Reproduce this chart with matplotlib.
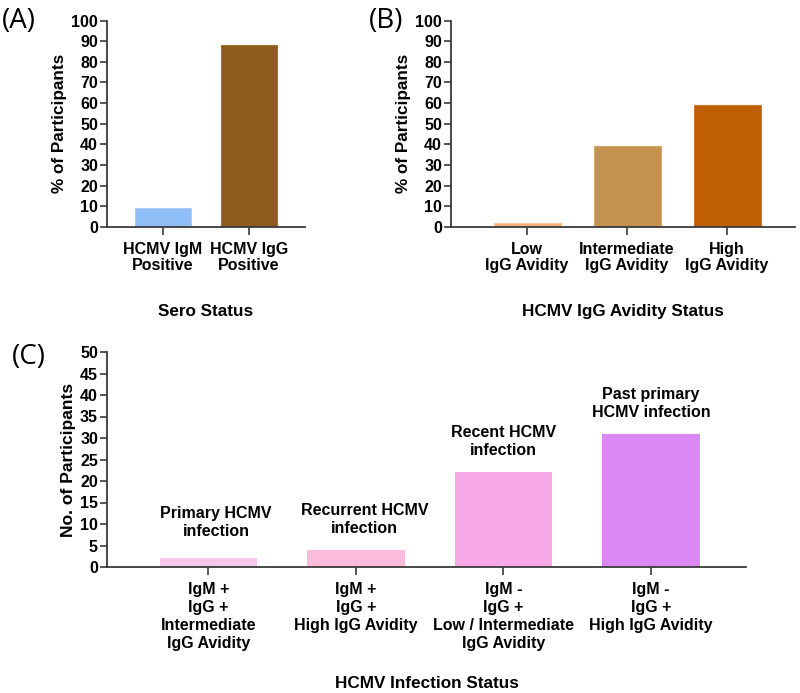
import matplotlib
matplotlib.use("Agg")
import matplotlib.pyplot as plt

plt.rcParams['font.family'] = ['Liberation Sans', 'DejaVu Sans']
plt.rcParams['font.weight'] = 'bold'

# Panel A
a_labels = ["HCMV IgM\nPositive", "HCMV IgG\nPositive"]
a_values = [9, 88]
a_colors = ["#8fbdf6", "#8e5b1e"]

# Panel B
b_labels = ["Low\nIgG Avidity", "Intermediate\nIgG Avidity", "High\nIgG Avidity"]
b_values = [2, 39, 59]
b_colors = ["#f5b27b", "#c4924f", "#c05f02"]

# Panel C
c_labels = ["IgM +\nIgG +\nIntermediate\nIgG Avidity",
            "IgM +\nIgG +\nHigh IgG Avidity",
            "IgM -\nIgG +\nLow / Intermediate\nIgG Avidity",
            "IgM -\nIgG +\nHigh IgG Avidity"]
c_values = [2, 4, 22, 31]
c_annot = ["Primary HCMV\ninfection", "Recurrent HCMV\ninfection",
           "Recent HCMV\ninfection", "Past primary\nHCMV infection"]
c_colors = ["#f7c6ec", "#fbbbdb", "#f6a9e6", "#dc88f4"]

W, H = 800, 693
fig = plt.figure(figsize=(8, 6.93), dpi=100)

def axes_px(l, r, t, b):
    return fig.add_axes([l / W, (H - b) / H, (r - l) / W, (b - t) / H])

spine_col = "#3a3a3a"
TICK_FS = 11.5
LAB_FS = 12.3

def style(ax):
    for s in ['top', 'right']:
        ax.spines[s].set_visible(False)
    for s in ['left', 'bottom']:
        ax.spines[s].set_color(spine_col)
        ax.spines[s].set_linewidth(1.3)
    ax.tick_params(axis='both', direction='out', length=5, width=1.2, color=spine_col,
                   labelsize=TICK_FS, pad=1.5)
    ax.tick_params(axis='x', length=6, pad=5)
    for lab in ax.get_yticklabels() + ax.get_xticklabels():
        lab.set_fontweight('bold')

# ---- A ----
axA = axes_px(107, 305, 20.7, 226.7)
xa = list(range(len(a_values)))
axA.bar(xa, a_values, width=0.65, color=a_colors, edgecolor=["#a9cdf8", "#a4712f"], linewidth=0.8)
axA.set_xlim(-0.65, 1.65)
axA.set_ylim(0, 100)
axA.set_yticks(range(0, 101, 10))
axA.set_xticks(xa)
axA.set_xticklabels(a_labels, linespacing=1.1)
style(axA)
axA.set_ylabel("% of Participants", fontsize=LAB_FS, fontweight='bold', labelpad=3)
axA.set_xlabel("Sero Status", fontsize=LAB_FS, fontweight='bold', labelpad=22)

# ---- B ----
axB = axes_px(451, 795, 20.7, 226.7)
xb = list(range(len(b_values)))
axB.bar(xb, b_values, width=0.67, color=b_colors, edgecolor=["#f8c49a", "#d2a56a", "#d07a2a"], linewidth=0.8)
axB.set_xlim(-0.76, 2.68)
axB.set_ylim(0, 100)
axB.set_yticks(range(0, 101, 10))
axB.set_xticks(xb)
axB.set_xticklabels(b_labels, linespacing=1.1)
style(axB)
axB.set_ylabel("% of Participants", fontsize=LAB_FS, fontweight='bold', labelpad=3)
axB.set_xlabel("HCMV IgG Avidity Status", fontsize=LAB_FS, fontweight='bold', labelpad=22)

# ---- C ----
axC = axes_px(107, 746, 352, 567)
xc = list(range(len(c_values)))
axC.bar(xc, c_values, width=0.66, color=c_colors, linewidth=0)
axC.set_xlim(-0.688, 3.644)
axC.set_ylim(0, 50)
axC.set_yticks(range(0, 51, 5))
axC.set_xticks(xc)
axC.set_xticklabels(c_labels, linespacing=1.25)
style(axC)
axC.set_ylabel("No. of Participants", fontsize=12.6, fontweight='bold', labelpad=3)
axC.set_xlabel("HCMV Infection Status", fontsize=LAB_FS, fontweight='bold', labelpad=18)
dxs = [5.5, 6, 0, 0]
dys = [26, 22, 22.5, 22]
for i, (v, t) in enumerate(zip(c_values, c_annot)):
    axC.annotate(t, xy=(i, v), xytext=(dxs[i], dys[i]), textcoords='offset points',
                 ha='center', va='center', fontsize=11.5, fontweight='bold', linespacing=1.25)

# panel letters
for txt, x, y in [("(A)", 2, 21), ("(B)", 369, 21), ("(C)", 12, 357)]:
    fig.text(x / W, 1 - y / H, txt, fontsize=20, fontweight='normal',
             family=['Open Sans', 'DejaVu Sans'], ha='left', va='center')

fig.savefig("out.png", dpi=100, facecolor='white')
